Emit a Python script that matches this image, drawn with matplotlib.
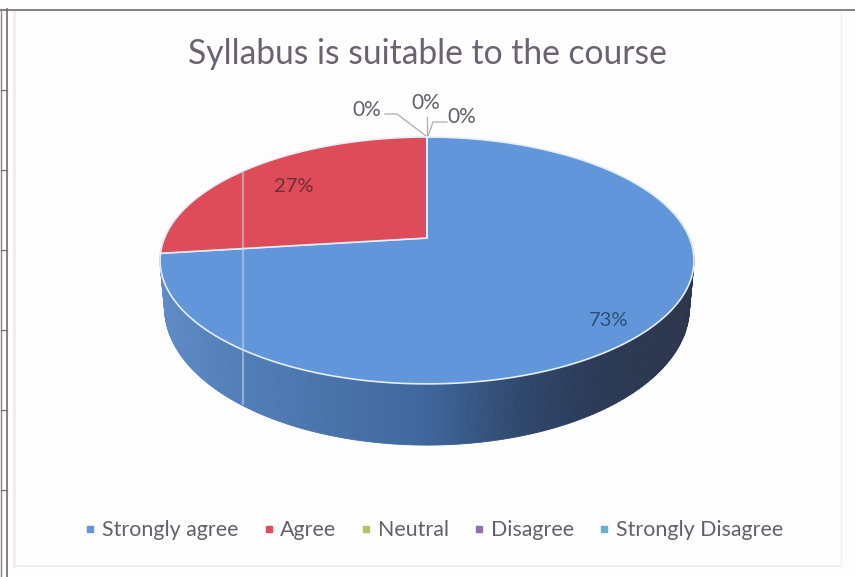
import numpy as np
import matplotlib
matplotlib.use('Agg')
import matplotlib.pyplot as plt
from matplotlib.lines import Line2D

TITLE = 'Syllabus is suitable to the course'
categories = ['Strongly agree', 'Agree', 'Neutral', 'Disagree', 'Strongly Disagree']
values = [73, 27, 0, 0, 0]
slice_colors = ['#6197da', '#dd4c58', '#b9c062', '#8f70b4', '#62b2cf']
left_ticks = [90, 170, 250, 330, 410, 490]

plt.rcParams['font.family'] = ['Lato', 'DejaVu Sans']
TEXT_GRAY = '#645f68'


def project(theta, top=True):
    """Perspective view of the unit circle, result in pixels of the picture."""
    x, y = np.cos(theta), np.sin(theta)
    k = 0.182
    if top:
        a, b, width = -76.0, 238.0, 262.5
    else:
        a, b, width = -81.0, 283.1, 258.0
    w = 1 + k * y
    return 427 + width * x / w, (a * y + b) / w


def wall_color(x):
    stops_x = [160, 240, 427, 520, 600, 690]
    stops_rgb = np.array([[0x5f, 0x8b, 0xc6], [0x52, 0x7e, 0xb8], [0x3f, 0x67, 0x9c],
                          [0x30, 0x48, 0x6e], [0x2b, 0x3a, 0x56], [0x2c, 0x36, 0x4c]]) / 255
    return [float(np.interp(x, stops_x, stops_rgb[:, i])) for i in range(3)]


fig = plt.figure(figsize=(8.55, 5.77), dpi=100, facecolor='#fefdfe')
ax = fig.add_axes([0, 0, 1, 1])
ax.set_xlim(0, 855)
ax.set_ylim(577, 0)
ax.axis('off')

# рамка скана
ax.plot([0, 855], [9.5, 9.5], color='#6e6a6c', lw=1.2)
ax.plot([7, 7], [9, 577], color='#6e6a6c', lw=1.2)
ax.plot([1, 1], [9, 577], color='#8a8688', lw=1.0)
for t in left_ticks:
    ax.plot([1, 7], [t, t], color='#77737a', lw=1.0)
ax.plot([14, 14], [12, 566], color='#f6e8ee', lw=2)
ax.plot([841, 841], [12, 566], color='#f3eff2', lw=1)
ax.plot([14, 841], [566, 566], color='#efeaed', lw=1.2)

# боковая стенка
edges = np.linspace(np.radians(165), np.radians(375), 211)
for t0, t1 in zip(edges[:-1], edges[1:]):
    x0, y0 = project(t0)
    x1, y1 = project(t1)
    x2, y2 = project(t1, top=False)
    x3, y3 = project(t0, top=False)
    c = wall_color((x0 + x1) / 2)
    ax.fill([x0, x1, x2, x3], [y0, y1, y2, y3], color=c, lw=0.6, zorder=2)

# верхняя грань
start = np.pi / 2
for val, col in zip(values, slice_colors):
    sweep = 2 * np.pi * val / sum(values)
    theta = np.linspace(start, start - sweep, 240)
    px, py = project(theta)
    ax.fill(np.r_[427, px], np.r_[238, py], facecolor=col, edgecolor='#e6edf5', lw=1.2, zorder=3)
    start -= sweep

# артефакт скана
ax.plot([243, 243], [172, 404], color='#c9d6ea', lw=1.6, alpha=0.55, zorder=4)

ax.text(427, 54, TITLE, ha='center', va='center', fontsize=24.2, color='#6a6270')

# подписи
ax.text(294, 186, f'{values[1]}%', ha='center', va='center', fontsize=14.5, color='#6b2f38', zorder=5)
ax.text(609, 320, f'{values[0]}%', ha='center', va='center', fontsize=14.5, color='#2f4d72', zorder=5)
ax.text(367, 110, f'{values[2]}%', ha='center', va='center', fontsize=15, color=TEXT_GRAY)
ax.text(426, 103, f'{values[3]}%', ha='center', va='center', fontsize=15, color=TEXT_GRAY)
ax.text(462, 117, f'{values[4]}%', ha='center', va='center', fontsize=15, color=TEXT_GRAY)
ax.plot([385, 397, 426], [114, 114, 136], color='#b5b2ae', lw=1, zorder=1)
ax.plot([427, 427], [117, 136], color='#b5b2ae', lw=1, zorder=1)
ax.plot([447, 433, 428], [122, 122, 136], color='#b5b2ae', lw=1, zorder=1)

handles = [Line2D([], [], ls='none', marker='s', ms=4.5, color=c) for c in slice_colors]
ax.legend(handles, categories, loc='center', bbox_to_anchor=(434 / 855, 1 - 530 / 577),
          ncol=5, frameon=False, fontsize=15.4, labelcolor=TEXT_GRAY, handlelength=0.5,
          handletextpad=0.3, columnspacing=1.15)

fig.savefig('out.png', dpi=100, facecolor=fig.get_facecolor())
